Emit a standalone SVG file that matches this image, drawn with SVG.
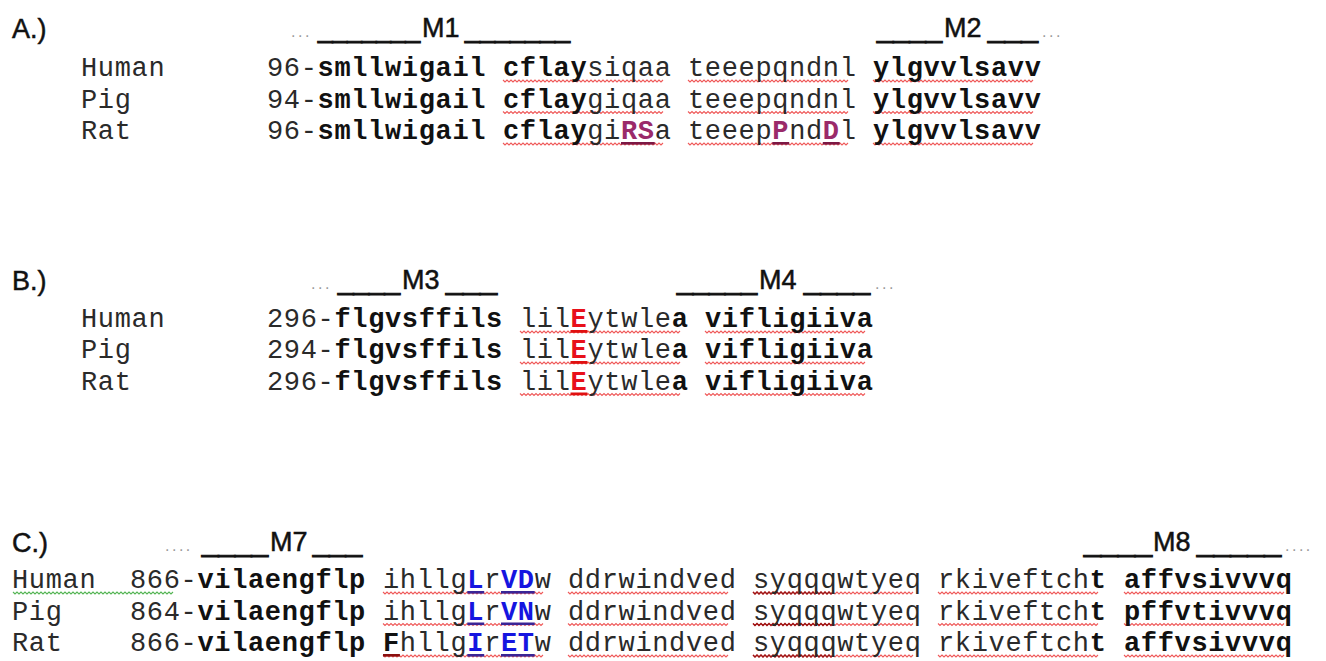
<svg xmlns="http://www.w3.org/2000/svg" width="1326" height="661" viewBox="0 0 1326 661">
  <style>
    .mono{font-family:"Liberation Mono","Courier New",monospace;font-size:27px;letter-spacing:0.65px;fill:#2a2a2a}
    .b{font-weight:bold;fill:#111}
    .mr{fill:#9a2a6a}
    .rd{fill:#e8101a}
    .bl{fill:#1515e0}
    .hd{font-family:"Liberation Sans",Arial,sans-serif;font-size:27px;fill:#111;stroke:#111;stroke-width:0.5}
    .bar{stroke-width:1.2}
    .dots{font-family:"Liberation Sans",Arial,sans-serif;font-size:16px;letter-spacing:2.5px;fill:#9a9a9a}
    .wv{fill:none;stroke:#ef5a5a;stroke-width:1.1}
    .wv-dk{fill:none;stroke:#9c1414;stroke-width:1.3}
    .wv-gn{fill:none;stroke:#55b555;stroke-width:1.1}
    .ul-mr{fill:#7d1844}
    .ul-rd{fill:#e01010}
    .ul-bl{fill:#3a2596}
    .ul-dk{fill:#8a1010}
  </style>
  <defs>
    <!-- wavy proofing underline, one 10-residue block wide -->
    <path id="wave" d="M0,0l2,2 2,-2 2,2 2,-2 2,2 2,-2 2,2 2,-2 2,2 2,-2 2,2 2,-2 2,2 2,-2 2,2 2,-2 2,2 2,-2 2,2 2,-2 2,2 2,-2 2,2 2,-2 2,2 2,-2 2,2 2,-2 2,2 2,-2 2,2 2,-2 2,2 2,-2 2,2 2,-2 2,2 2,-2 2,2 2,-2 2,2 2,-2 2,2 2,-2 2,2 2,-2 2,2 2,-2 2,2 2,-2 2,2 2,-2 2,2 2,-2 2,2 2,-2 2,2 2,-2 2,2 2,-2 2,2 2,-2 2,2 2,-2 2,2 2,-2 2,2 2,-2 2,2 2,-2 2,2 2,-2 2,2 2,-2 2,2 2,-2 2,2 2,-2 2,2 2,-2"/>
    <!-- half-width variant (5 residues) -->
    <path id="wave5" d="M0,0l2,2 2,-2 2,2 2,-2 2,2 2,-2 2,2 2,-2 2,2 2,-2 2,2 2,-2 2,2 2,-2 2,2 2,-2 2,2 2,-2 2,2 2,-2 2,2 2,-2 2,2 2,-2 2,2 2,-2 2,2 2,-2 2,2 2,-2 2,2 2,-2 2,2 2,-2 2,2 2,-2 2,2 2,-2 2,2 2,-2"/>
  </defs>

  <!-- ============ Panel A : M1-M2 ============ -->
  <g id="panel-a">
    <text class="hd" x="12" y="38">A.)</text>
    <g id="a-header">
      <text class="dots" x="291" y="37">...</text>
      <text class="hd bar" x="318" y="37" textLength="102" lengthAdjust="spacingAndGlyphs">_______</text>
      <text class="hd" x="422" y="37">M1</text>
      <text class="hd bar" x="465" y="37" textLength="105" lengthAdjust="spacingAndGlyphs">_______</text>
      <text class="hd bar" x="877" y="37" textLength="65" lengthAdjust="spacingAndGlyphs">____</text>
      <text class="hd" x="944" y="37">M2</text>
      <text class="hd bar" x="988" y="37" textLength="50" lengthAdjust="spacingAndGlyphs">___</text>
      <text class="dots" x="1042" y="37">...</text>
    </g>
    <g id="a-marks">
      <use href="#wave" class="wv" x="503" y="80"/><use href="#wave" class="wv" x="688" y="80"/><use href="#wave" class="wv" x="873" y="80"/>
      <use href="#wave" class="wv" x="503" y="111.5"/><use href="#wave" class="wv" x="688" y="111.5"/><use href="#wave" class="wv" x="873" y="111.5"/>
      <use href="#wave" class="wv" x="503" y="143"/><use href="#wave" class="wv" x="688" y="143"/><use href="#wave" class="wv" x="873" y="143"/>
      <rect class="ul-mr" x="621" y="142" width="33.7" height="2.6"/>
      <rect class="ul-mr" x="772.3" y="142" width="16.9" height="2.6"/>
      <rect class="ul-mr" x="822.8" y="142" width="16.9" height="2.6"/>
    </g>
    <text id="a-human" class="mono" y="76"><tspan x="81">Human</tspan><tspan x="267">96-</tspan><tspan class="b">smllwigail</tspan><tspan x="503" class="b">cflay</tspan><tspan>siqaa</tspan><tspan x="688">teeepqndnl</tspan><tspan x="873" class="b">ylgvvlsavv</tspan></text>
    <text id="a-pig" class="mono" y="107.5"><tspan x="81">Pig</tspan><tspan x="267">94-</tspan><tspan class="b">smllwigail</tspan><tspan x="503" class="b">cflay</tspan><tspan>giqaa</tspan><tspan x="688">teeepqndnl</tspan><tspan x="873" class="b">ylgvvlsavv</tspan></text>
    <text id="a-rat" class="mono" y="139"><tspan x="81">Rat</tspan><tspan x="267">96-</tspan><tspan class="b">smllwigail</tspan><tspan x="503" class="b">cflay</tspan><tspan>gi</tspan><tspan class="b mr">RS</tspan><tspan>a</tspan><tspan x="688">teeep</tspan><tspan class="b mr">P</tspan><tspan>nd</tspan><tspan class="b mr">D</tspan><tspan>l</tspan><tspan x="873" class="b">ylgvvlsavv</tspan></text>
  </g>

  <!-- ============ Panel B : M3-M4 ============ -->
  <g id="panel-b">
    <text class="hd" x="12" y="290">B.)</text>
    <g id="b-header">
      <text class="dots" x="311" y="289">...</text>
      <text class="hd bar" x="338" y="289" textLength="62" lengthAdjust="spacingAndGlyphs">____</text>
      <text class="hd" x="402" y="289">M3</text>
      <text class="hd bar" x="446" y="289" textLength="51" lengthAdjust="spacingAndGlyphs">___</text>
      <text class="hd bar" x="677" y="289" textLength="80" lengthAdjust="spacingAndGlyphs">_____</text>
      <text class="hd" x="759" y="289">M4</text>
      <text class="hd bar" x="804" y="289" textLength="66" lengthAdjust="spacingAndGlyphs">____</text>
      <text class="dots" x="875" y="289">...</text>
    </g>
    <g id="b-marks">
      <use href="#wave" class="wv" x="520" y="331"/><use href="#wave" class="wv" x="705" y="331"/>
      <use href="#wave" class="wv" x="520" y="362"/><use href="#wave" class="wv" x="705" y="362"/>
      <use href="#wave" class="wv" x="520" y="393.5"/><use href="#wave" class="wv" x="705" y="393.5"/>
      <rect class="ul-rd" x="570.5" y="330" width="16.9" height="2.8"/>
      <rect class="ul-rd" x="570.5" y="361" width="16.9" height="2.8"/>
      <rect class="ul-rd" x="570.5" y="392.5" width="16.9" height="2.8"/>
    </g>
    <text id="b-human" class="mono" y="327"><tspan x="81">Human</tspan><tspan x="267">296-</tspan><tspan class="b">flgvsffils</tspan><tspan x="520">lil</tspan><tspan class="b rd">E</tspan><tspan>ytwle</tspan><tspan class="b">a</tspan><tspan x="705" class="b">vifligiiva</tspan></text>
    <text id="b-pig" class="mono" y="358"><tspan x="81">Pig</tspan><tspan x="267">294-</tspan><tspan class="b">flgvsffils</tspan><tspan x="520">lil</tspan><tspan class="b rd">E</tspan><tspan>ytwle</tspan><tspan class="b">a</tspan><tspan x="705" class="b">vifligiiva</tspan></text>
    <text id="b-rat" class="mono" y="389.5"><tspan x="81">Rat</tspan><tspan x="267">296-</tspan><tspan class="b">flgvsffils</tspan><tspan x="520">lil</tspan><tspan class="b rd">E</tspan><tspan>ytwle</tspan><tspan class="b">a</tspan><tspan x="705" class="b">vifligiiva</tspan></text>
  </g>

  <!-- ============ Panel C : M7-M8 ============ -->
  <g id="panel-c">
    <text class="hd" x="12" y="552">C.)</text>
    <g id="c-header">
      <text class="dots" x="165" y="551">....</text>
      <text class="hd bar" x="202" y="551" textLength="66" lengthAdjust="spacingAndGlyphs">____</text>
      <text class="hd" x="270" y="551">M7</text>
      <text class="hd bar" x="313" y="551" textLength="49" lengthAdjust="spacingAndGlyphs">___</text>
      <text class="hd bar" x="1084" y="551" textLength="68" lengthAdjust="spacingAndGlyphs">____</text>
      <text class="hd" x="1153" y="551">M8</text>
      <text class="hd bar" x="1197" y="551" textLength="84" lengthAdjust="spacingAndGlyphs">_____</text>
      <text class="dots" x="1285" y="551">....</text>
    </g>
    <g id="c-marks">
      <use href="#wave" class="wv-gn" x="13" y="592"/>
      <use href="#wave" class="wv" x="383" y="592"/><use href="#wave" class="wv" x="568" y="592"/><use href="#wave" class="wv" x="753" y="592"/><use href="#wave" class="wv" x="938" y="592"/><use href="#wave" class="wv" x="1124" y="592"/>
      <use href="#wave" class="wv" x="383" y="623.5"/><use href="#wave" class="wv" x="568" y="623.5"/><use href="#wave" class="wv" x="753" y="623.5"/><use href="#wave" class="wv" x="938" y="623.5"/><use href="#wave" class="wv" x="1124" y="623.5"/>
      <use href="#wave" class="wv" x="383" y="655"/><use href="#wave" class="wv" x="568" y="655"/><use href="#wave" class="wv" x="753" y="655"/><use href="#wave" class="wv" x="938" y="655"/><use href="#wave" class="wv" x="1124" y="655"/>
      <use href="#wave5" class="wv-dk" x="753" y="592"/>
      <use href="#wave5" class="wv-dk" x="753" y="623.5"/>
      <use href="#wave5" class="wv-dk" x="753" y="655"/>
      <rect class="ul-bl" x="467.3" y="591" width="16.9" height="2.6"/>
      <rect class="ul-bl" x="501" y="591" width="33.7" height="2.6"/>
      <rect class="ul-bl" x="467.3" y="622.5" width="16.9" height="2.6"/>
      <rect class="ul-bl" x="501" y="622.5" width="33.7" height="2.6"/>
      <rect class="ul-dk" x="383" y="654" width="16.9" height="2.6"/>
      <rect class="ul-bl" x="467.3" y="654" width="16.9" height="2.6"/>
      <rect class="ul-bl" x="501" y="654" width="33.7" height="2.6"/>
    </g>
    <text id="c-human" class="mono" y="588"><tspan x="12">Human</tspan><tspan x="130">866-</tspan><tspan class="b">vilaengflp</tspan><tspan x="383">ihllg</tspan><tspan class="b bl">L</tspan><tspan>r</tspan><tspan class="b bl">VD</tspan><tspan>w</tspan><tspan x="568">ddrwindved</tspan><tspan x="753">syqqqwtyeq</tspan><tspan x="938">rkiveftch</tspan><tspan class="b">t</tspan><tspan x="1124" class="b">affvsivvvq</tspan></text>
    <text id="c-pig" class="mono" y="619.5"><tspan x="12">Pig</tspan><tspan x="130">864-</tspan><tspan class="b">vilaengflp</tspan><tspan x="383">ihllg</tspan><tspan class="b bl">L</tspan><tspan>r</tspan><tspan class="b bl">VN</tspan><tspan>w</tspan><tspan x="568">ddrwindved</tspan><tspan x="753">syqqqwtyeq</tspan><tspan x="938">rkiveftch</tspan><tspan class="b">t</tspan><tspan x="1124" class="b">pffvtivvvq</tspan></text>
    <text id="c-rat" class="mono" y="651"><tspan x="12">Rat</tspan><tspan x="130">866-</tspan><tspan class="b">vilaengflp</tspan><tspan x="383" class="b">F</tspan><tspan>hllg</tspan><tspan class="b bl">I</tspan><tspan>r</tspan><tspan class="b bl">ET</tspan><tspan>w</tspan><tspan x="568">ddrwindved</tspan><tspan x="753">syqqqwtyeq</tspan><tspan x="938">rkiveftch</tspan><tspan class="b">t</tspan><tspan x="1124" class="b">affvsivvvq</tspan></text>
  </g>
</svg>
